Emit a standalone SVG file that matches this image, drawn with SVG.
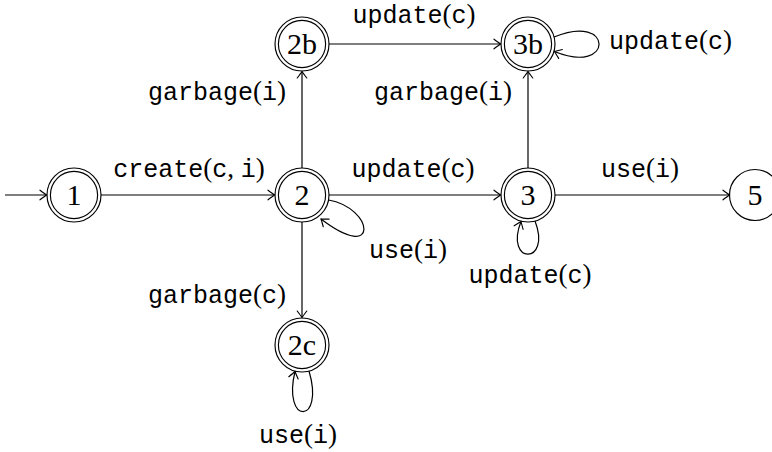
<svg xmlns="http://www.w3.org/2000/svg" width="772" height="452" viewBox="0 0 772 452">
  <style>
    .ring { fill: none; stroke: #000; stroke-width: 1.15; }
    .edge { fill: none; stroke: #000; stroke-width: 1.2; marker-end: url(#to); }
    .num { font-family: "Liberation Serif", "DejaVu Serif", serif; font-size: 30px; text-anchor: middle; fill: #000; }
    .lbl { font-family: "Liberation Mono", "DejaVu Sans Mono", monospace; font-size: 25px; fill: #000; }
    .rm { font-family: "Liberation Serif", "DejaVu Serif", serif; font-size: 27px; }
  </style>
  <defs>
    <!-- open curved arrow tip -->
    <marker id="to" viewBox="-10 -6 12 12" markerWidth="12" markerHeight="12" refX="0" refY="0" orient="auto" markerUnits="userSpaceOnUse">
      <path d="M -6.5,-4.8 Q -1.5,-1 0,0 Q -1.5,1 -6.5,4.8" fill="none" stroke="#000" stroke-width="1.15" stroke-linecap="round"/>
    </marker>
  </defs>
  <rect width="772" height="452" fill="#fff"/>

  <g id="connectors">
    <!-- initial arrow -->
    <path class="edge" d="M 5,195 H 46.5"/>
    <path class="edge" d="M 101,195 H 274.5"/>
    <path class="edge" d="M 329,195 H 500.5"/>
    <path class="edge" d="M 555,195 H 729.5"/>
    <path class="edge" d="M 302,168 V 71.5"/>
    <path class="edge" d="M 302,222 V 317.5"/>
    <path class="edge" d="M 329,44 H 500.5"/>
    <path class="edge" d="M 528,168 V 71.5"/>
    <!-- self loops -->
    <path class="edge" d="M 328.5,200 C 374,208 380,264 321,219"/>
    <path class="edge" d="M 535,221 C 552,265 504,265 521,221.5"/>
    <path class="edge" d="M 309,371 C 325,425 282,425 295,371.5"/>
    <path class="edge" d="M 554,37 C 614,12 614,76 554.5,51.5"/>

    <!-- edge labels -->
    <text class="lbl" x="189" y="177" text-anchor="middle">create<tspan class="rm">(</tspan>c<tspan class="rm">, </tspan>i<tspan class="rm">)</tspan></text>
    <text class="lbl" x="413" y="177" text-anchor="middle">update<tspan class="rm">(</tspan>c<tspan class="rm">)</tspan></text>
    <text class="lbl" x="640" y="177" text-anchor="middle">use<tspan class="rm">(</tspan>i<tspan class="rm">)</tspan></text>
    <text class="lbl" x="414" y="23" text-anchor="middle">update<tspan class="rm">(</tspan>c<tspan class="rm">)</tspan></text>
    <text class="lbl" x="286" y="100" text-anchor="end">garbage<tspan class="rm">(</tspan>i<tspan class="rm">)</tspan></text>
    <text class="lbl" x="512" y="100" text-anchor="end">garbage<tspan class="rm">(</tspan>i<tspan class="rm">)</tspan></text>
    <text class="lbl" x="286" y="303" text-anchor="end">garbage<tspan class="rm">(</tspan>c<tspan class="rm">)</tspan></text>
    <text class="lbl" x="609" y="49">update<tspan class="rm">(</tspan>c<tspan class="rm">)</tspan></text>
    <text class="lbl" x="408" y="258" text-anchor="middle">use<tspan class="rm">(</tspan>i<tspan class="rm">)</tspan></text>
    <text class="lbl" x="530" y="283" text-anchor="middle">update<tspan class="rm">(</tspan>c<tspan class="rm">)</tspan></text>
    <text class="lbl" x="298" y="443" text-anchor="middle">use<tspan class="rm">(</tspan>i<tspan class="rm">)</tspan></text>
  </g>

  <g id="q1">
    <circle class="ring" cx="74" cy="195" r="27"/>
    <circle class="ring" cx="74" cy="195" r="23.6"/>
    <text class="num" x="74" y="205">1</text>
  </g>
  <g id="q2">
    <circle class="ring" cx="302" cy="195" r="27"/>
    <circle class="ring" cx="302" cy="195" r="23.6"/>
    <text class="num" x="302" y="205">2</text>
  </g>
  <g id="q3">
    <circle class="ring" cx="528" cy="195" r="27"/>
    <circle class="ring" cx="528" cy="195" r="23.6"/>
    <text class="num" x="528" y="205">3</text>
  </g>
  <g id="q5">
    <circle class="ring" cx="755" cy="195" r="25.5"/>
    <text class="num" x="755" y="205">5</text>
  </g>
  <g id="q2b">
    <circle class="ring" cx="302" cy="44" r="27"/>
    <circle class="ring" cx="302" cy="44" r="23.6"/>
    <text class="num" x="302" y="54">2b</text>
  </g>
  <g id="q3b">
    <circle class="ring" cx="528" cy="44" r="27"/>
    <circle class="ring" cx="528" cy="44" r="23.6"/>
    <text class="num" x="528" y="54">3b</text>
  </g>
  <g id="q2c">
    <circle class="ring" cx="302" cy="345" r="27"/>
    <circle class="ring" cx="302" cy="345" r="23.6"/>
    <text class="num" x="302" y="355">2c</text>
  </g>
</svg>
